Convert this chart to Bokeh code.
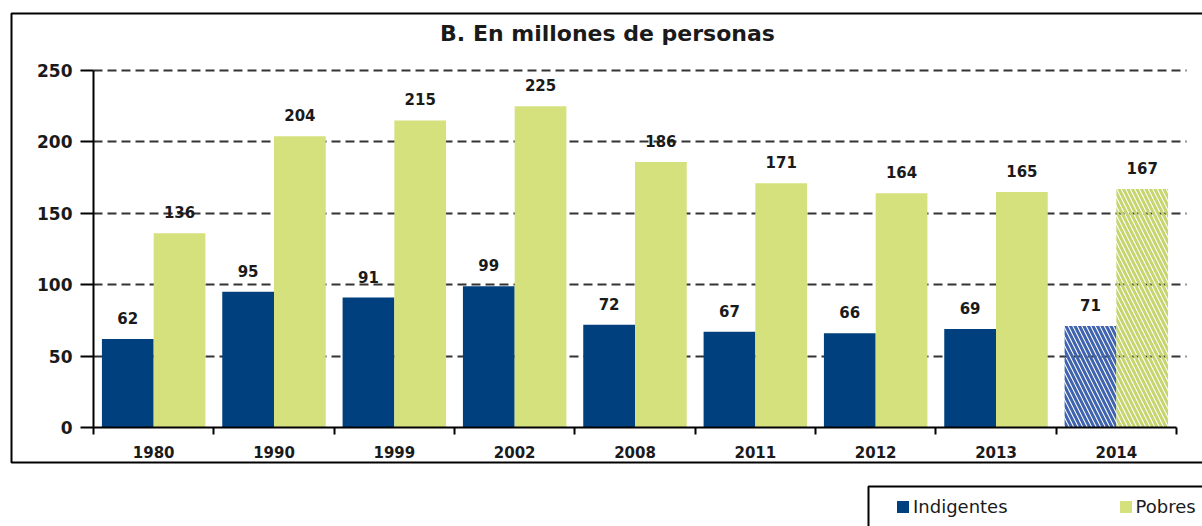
from bokeh.plotting import figure
from bokeh.models import (ColumnDataSource, Range1d, FixedTicker, BoxAnnotation,
                          Legend, LegendItem, LabelSet, Label)
from bokeh.core.properties import value
from bokeh.embed import file_html
from bokeh.resources import INLINE

years = ["1980", "1990", "1999", "2002", "2008", "2011", "2012", "2013", "2014"]
indigentes = [62, 95, 91, 99, 72, 67, 66, 69, 71]
pobres = [136, 204, 215, 225, 186, 171, 164, 165, 167]
projected = [False] * 8 + [True]
y_ticks = [0, 50, 100, 150, 200, 250]
title_text = "B. En millones de personas"

BLUE = "#00407e"
GREEN = "#d4e17d"
FONT = "DejaVu Sans"
TXT = "#1a1a1a"

# canvas layout (pixels): the frame covers the whole canvas, axes sit at fixed locations
W, H = 1202, 526
X0, X9 = 93, 1176      # pixel x of category boundary 0 and 9
Y0, Y250 = 427, 70     # pixel y of value 0 and 250
n = len(years)
SX = (X9 - X0) / n
SY = (Y0 - Y250) / 250.0

def dx(px):
    return (px - X0) / SX

def dy(py):
    return (Y0 - py) / SY

centers = [i + 0.5 for i in range(n)]
bw = 0.43

def pick(vals, off, want):
    return dict(x=[c + off for c, pr in zip(centers, projected) if pr == want],
                top=[v for v, pr in zip(vals, projected) if pr == want])

src_ind = ColumnDataSource(pick(indigentes, -bw / 2, False))
src_ind_p = ColumnDataSource(pick(indigentes, -bw / 2, True))
src_pob = ColumnDataSource(pick(pobres, bw / 2, False))
src_pob_p = ColumnDataSource(pick(pobres, bw / 2, True))
lab_src = ColumnDataSource(dict(
    x=[c - bw / 2 for c in centers] + [c + bw / 2 for c in centers],
    y=indigentes + pobres,
    t=[str(v) for v in indigentes + pobres]))

p = figure(width=W, height=H, output_backend="svg", toolbar_location=None, title=None,
           x_range=Range1d(dx(0), dx(W)), y_range=Range1d(dy(H), dy(0)),
           min_border=0, min_border_left=0, min_border_right=0,
           min_border_top=0, min_border_bottom=0)
p.outline_line_color = None
p.background_fill_color = "white"
p.border_fill_color = "white"

# grid
p.xgrid.visible = False
yg = p.ygrid[0]
yg.ticker = FixedTicker(ticks=y_ticks[1:])
yg.grid_line_color = "#333333"
yg.grid_line_dash = "9 5"
yg.grid_line_width = 2
if "cross_bounds" in yg.properties():
    yg.cross_bounds = (0, dx(1186))

# bars
r_ind = p.vbar(x="x", top="top", width=bw, source=src_ind, fill_color=BLUE, line_color=None)
r_pob = p.vbar(x="x", top="top", width=bw, source=src_pob, fill_color=GREEN, line_color=None)
p.vbar(x="x", top="top", width=bw, source=src_ind_p, fill_alpha=0, line_color=None,
       hatch_pattern="\\", hatch_color="#3f63ad", hatch_scale=9, hatch_weight=3)
p.vbar(x="x", top="top", width=bw, source=src_pob_p, fill_alpha=0, line_color=None,
       hatch_pattern="\\", hatch_color="#c6d56f", hatch_scale=9, hatch_weight=3)

labels = LabelSet(x="x", y="y", text="t", source=lab_src, text_align="center",
                  text_baseline="middle", y_offset=21, text_font=value(FONT),
                  text_font_style="bold", text_font_size="15px", text_color=TXT)
p.add_layout(labels)

# axes placed inside the frame
xa = p.xaxis[0]
xa.fixed_location = 0
xa.ticker = FixedTicker(ticks=centers, minor_ticks=list(range(n + 1)))
xa.major_label_overrides = {c: y for c, y in zip(centers, years)}
xa.major_tick_line_color = None
xa.major_tick_out = 0
xa.major_tick_in = 0
xa.minor_tick_out = 7
xa.minor_tick_in = 0
xa.minor_tick_line_color = "black"
xa.minor_tick_line_width = 2
xa.axis_line_color = "black"
xa.axis_line_width = 2
xa.bounds = (0, n)
xa.major_label_standoff = 11
xa.major_label_text_font = FONT
xa.major_label_text_font_style = "bold"
xa.major_label_text_font_size = "15px"
xa.major_label_text_color = TXT

ya = p.yaxis[0]
ya.fixed_location = 0
ya.ticker = FixedTicker(ticks=y_ticks)
ya.bounds = (0, 250)
ya.major_tick_out = 13
ya.major_tick_in = 0
ya.minor_tick_line_color = None
ya.major_tick_line_color = "black"
ya.major_tick_line_width = 2
ya.axis_line_color = "black"
ya.axis_line_width = 2
ya.major_label_standoff = 8
ya.major_label_text_font = FONT
ya.major_label_text_font_style = "bold"
ya.major_label_text_font_size = "17px"
ya.major_label_text_color = TXT

# title
p.add_layout(Label(x=dx(607), y=dy(33), text=title_text, text_align="center",
                   text_baseline="middle", text_font=FONT, text_font_style="bold",
                   text_font_size="22px", text_color=TXT))

# outer border box and legend box
p.add_layout(BoxAnnotation(left=dx(11), right=dx(W + 20), top=dy(13), bottom=dy(462),
                           fill_alpha=0, line_color="black", line_alpha=1, line_width=2))
p.add_layout(BoxAnnotation(left=dx(868), right=dx(W + 20), top=dy(486), bottom=dy(H + 20),
                           fill_alpha=0, line_color="black", line_alpha=1, line_width=2))

legend = Legend(items=[LegendItem(label="Indigentes", renderers=[r_ind]),
                       LegendItem(label="Pobres", renderers=[r_pob])],
                orientation="horizontal", location=(895, H - 517),
                border_line_color=None, background_fill_alpha=0,
                padding=0, margin=0, spacing=110, label_standoff=3,
                glyph_width=15, glyph_height=15, label_height=15,
                label_text_font=FONT, label_text_font_size="18px",
                label_text_color=TXT)
p.add_layout(legend, "center")

open("out.html", "w").write(file_html(p, INLINE))
